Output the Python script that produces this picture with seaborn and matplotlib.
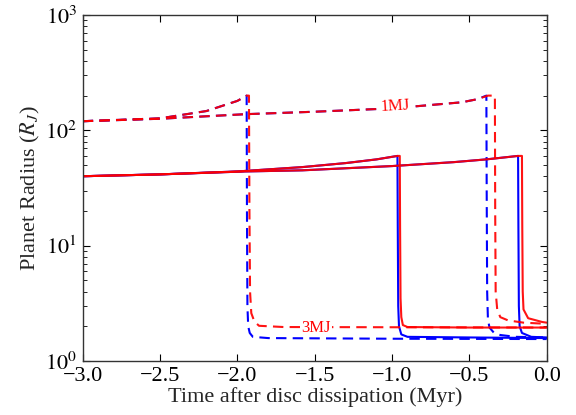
import numpy as np
import pandas as pd
import matplotlib
matplotlib.use("Agg")
import matplotlib.pyplot as plt
import seaborn as sns

# ---- data ----
# 1 MJ, dashed
t_1mj_blue = [-3.0, -2.5, -1.95, -1.5, -1.0, -0.55, -0.45, -0.39, -0.388, -0.385, -0.38, -0.37, -0.34, -0.3, -0.2, 0.0]
r_1mj_blue = [120, 126, 138, 145, 155, 175, 186, 200, 30, 4.0, 2.3, 1.95, 1.75, 1.68, 1.62, 1.6]
t_1mj_red = [-3.0, -2.5, -1.95, -1.5, -1.0, -0.55, -0.45, -0.38, -0.335, -0.333, -0.33, -0.32, -0.3, -0.25, -0.15, 0.0]
r_1mj_red = [120, 126, 138, 145, 155, 175, 186, 200, 200, 20, 4.0, 2.8, 2.4, 2.25, 2.15, 2.1]

# 3 MJ, dashed
t_3mj_blue = [-3.0, -2.5, -2.2, -2.0, -1.94, -1.938, -1.935, -1.93, -1.92, -1.9, -1.8, -1.0, 0.0]
r_3mj_blue = [120, 127, 147, 180, 200, 20, 3.0, 2.0, 1.75, 1.62, 1.58, 1.56, 1.55]
t_3mj_red = [-3.0, -2.5, -2.2, -2.0, -1.94, -1.925, -1.922, -1.918, -1.91, -1.89, -1.86, -1.7, 0.0]
r_3mj_red = [120, 127, 147, 180, 200, 200, 20, 4.0, 2.6, 2.2, 2.02, 1.97, 1.95]

# solid, short (collapse near -0.96 Myr)
t_sa_blue = [-3.0, -2.5, -2.0, -1.58, -1.3, -1.1, -0.965, -0.963, -0.96, -0.955, -0.94, -0.9, -0.5, 0.0]
r_sa_blue = [40, 41.5, 44, 48, 52, 56, 60, 15, 3.0, 2.0, 1.7, 1.62, 1.6, 1.58]
t_sa_red = [-3.0, -2.5, -2.0, -1.58, -1.3, -1.1, -0.965, -0.95, -0.948, -0.945, -0.94, -0.93, -0.9, -0.5, 0.0]
r_sa_red = [40, 41.5, 44, 48, 52, 56, 60, 60, 15, 3.5, 2.4, 2.05, 1.97, 1.95, 1.95]

# solid, long (collapse near -0.18 Myr)
t_sb_blue = [-3.0, -2.5, -1.95, -1.58, -1.0, -0.6, -0.39, -0.185, -0.183, -0.18, -0.175, -0.16, -0.1, 0.0]
r_sb_blue = [40, 41.5, 44, 45, 49, 53, 56, 60, 15, 3.0, 2.0, 1.75, 1.62, 1.6]
t_sb_red = [-3.0, -2.5, -1.95, -1.58, -1.0, -0.6, -0.39, -0.185, -0.16, -0.158, -0.155, -0.15, -0.12, -0.03, 0.0]
r_sb_red = [40, 41.5, 44, 45, 49, 53, 56, 60, 60, 15, 4.0, 2.8, 2.35, 2.18, 2.15]

labels = ["1MJ", "3MJ"]
label_pos_t = [-0.98, -1.49]
label_pos_r = [163, 1.95]

series = [
    ("1MJ blue", t_1mj_blue, r_1mj_blue, "blue", "--"),
    ("3MJ blue", t_3mj_blue, r_3mj_blue, "blue", "--"),
    ("sa blue", t_sa_blue, r_sa_blue, "blue", "-"),
    ("sb blue", t_sb_blue, r_sb_blue, "blue", "-"),
    ("1MJ red", t_1mj_red, r_1mj_red, "red", "--"),
    ("3MJ red", t_3mj_red, r_3mj_red, "red", "--"),
    ("sa red", t_sa_red, r_sa_red, "red", "-"),
    ("sb red", t_sb_red, r_sb_red, "red", "-"),
]

sns.set_style("ticks")
plt.rcParams["font.family"] = ["Liberation Serif", "DejaVu Serif"]
plt.rcParams["mathtext.fontset"] = "stix"
plt.rcParams["axes.unicode_minus"] = True

fig = plt.figure(figsize=(5.76, 4.15), dpi=100)
ax = fig.add_axes([82.7 / 576, 1 - 361 / 415, 464 / 576, 346 / 415])

for name, t, r, c, ls in series:
    df = pd.DataFrame({"t": t, "r": r})
    sns.lineplot(data=df, x="t", y="r", ax=ax, color=c, linestyle=ls,
                 linewidth=1.5, sort=False, estimator=None,
                 alpha=0.92 if c == "red" else 1.0)
for ln in ax.get_lines():
    if ln.get_linestyle() == "--":
        ln.set_dashes((5, 3))

ax.set_yscale("log")
ax.set_xlim(-3.0, 0.0)
ax.set_ylim(1, 1000)
ax.set_xticks([-3.0, -2.5, -2.0, -1.5, -1.0, -0.5, 0.0])
ax.set_xticklabels(["\u22123.0", "\u22122.5", "\u22122.0", "\u22121.5", "\u22121.0", "\u22120.5", "0.0"])
ax.set_yticks([1, 10, 100, 1000])
ax.set_yticklabels([r"$10^{0}$", r"$10^{1}$", r"$10^{2}$", r"$10^{3}$"])

ax.tick_params(which="both", direction="in", top=True, right=True, labelsize=16, colors="black")
ax.tick_params(which="major", length=5, width=0.8, pad=4)
ax.tick_params(which="minor", length=3, width=0.6)
ax.tick_params(axis="x", which="minor", bottom=False, top=False)
for s in ax.spines.values():
    s.set_color("#333333")
    s.set_linewidth(1.0)

ax.set_xlabel("Time after disc dissipation (Myr)", fontsize=16, labelpad=1)
ax.set_ylabel(r"Planet Radius ($R_J$)", fontsize=16, labelpad=2)

rots = [3.2, 0]
for lab, tx, ty, rot in zip(labels, label_pos_t, label_pos_r, rots):
    ax.text(tx, ty, lab, color="red", fontsize=12, ha="center", va="center",
            rotation=rot, bbox=dict(facecolor="white", edgecolor="none", pad=1.0), zorder=5)

fig.savefig("out.png", dpi=100)
